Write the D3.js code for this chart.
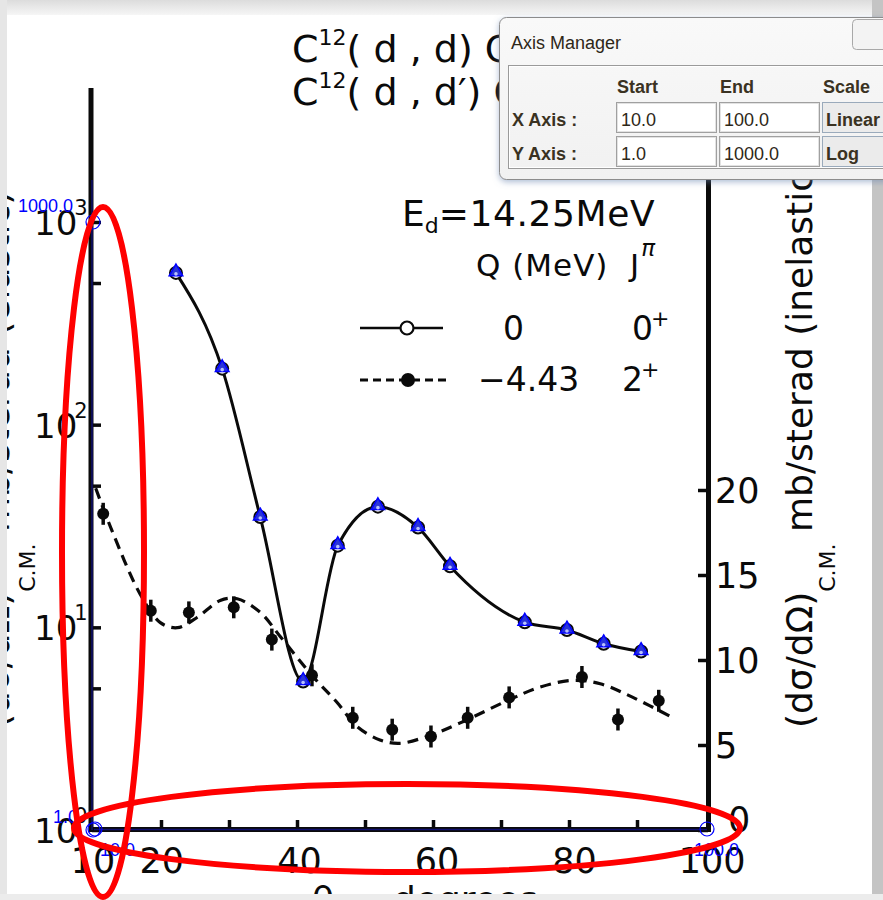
<!DOCTYPE html>
<html>
<head>
<meta charset="utf-8">
<script src="https://cdn.jsdelivr.net/npm/d3@7"></script>
<style>
  body { margin: 0; background: #fff; }
  svg { display: block; }
</style>
</head>
<body>
<svg id="chart" width="883" height="900"></svg>
<script>
// ---- data: C12(d,d)C12 elastic and C12(d,d')C12 inelastic, Ed = 14.25 MeV ----
const elasticAngles = [22.2, 29.0, 34.6, 40.9, 46.0, 51.9, 57.8, 62.5, 73.5, 79.7, 85.1, 90.6];
const elasticValues = [561, 189, 35, 5.4, 25.3, 39.4, 31.1, 20.0, 10.6, 9.7, 8.3, 7.6];

const inelasticAngles = [11.5, 18.5, 24.1, 30.7, 36.3, 42.2, 48.2, 54.0, 59.7, 65.1, 71.2, 81.9, 87.2, 93.2];
const inelasticValues = [18.6, 12.9, 12.8, 13.1, 11.2, 9.1, 6.6, 5.9, 5.5, 6.6, 7.8, 9.0, 6.5, 7.6];

// dashed theoretical curve for the inelastic group
const inelasticFitAngles = [10.4, 12.9, 16.9, 19.9, 22.4, 25.3, 28.7, 31.2, 34.6, 37.5, 42.4, 45.9, 48.8, 52.2, 55.1, 59.1, 64.0, 70.9, 75.7, 80.6, 84.6, 89.4, 95.3];
const inelasticFitValues = [20.1, 17.5, 13.9, 12.2, 11.9, 12.5, 13.5, 13.6, 12.8, 11.4, 9.0, 7.5, 6.1, 5.3, 5.1, 5.5, 6.3, 7.6, 8.4, 8.8, 8.6, 7.8, 6.6];

const xTickLabels = [10, 20, 40, 60, 80, 100];
const xTickMarks = [20, 30, 40, 50, 60, 70, 80, 90];
const leftTickMarks = [1, 5, 10, 50, 100, 500, 1000];
const leftTickLabels = [1, 10, 100, 1000];
const rightTickValues = [0, 5, 10, 15, 20];

// calibration points of the axis tool
const calibPoints = [
  { axis: "x", value: 10, label: "10.0" },
  { axis: "x", value: 100, label: "100.0" },
  { axis: "y", value: 1, label: "1.0" },
  { axis: "y", value: 1000, label: "1000.0" }
];
const managerRows = [
  { name: "X Axis :", start: "10.0", end: "100.0", scale: "Linear" },
  { name: "Y Axis :", start: "1.0", end: "1000.0", scale: "Log" }
];
const managerHeaders = ["Start", "End", "Scale"];

// ---- scales ----
const x = d3.scaleLinear().domain([10, 100]).range([93, 705]);
const yL = d3.scaleLog().domain([1, 1000]).range([830, 222]);
const yR = d3.scaleLinear().domain([0, 20]).range([830, 490]);

const svg = d3.select("#chart");
const FONT = "'DejaVu Sans', sans-serif";
const ink = "#0a0a0a";

svg.append("rect").attr("width", 883).attr("height", 900).attr("fill", "#fff");

// ---- rotated axis titles ----
function axisTitle(g, kind, subDrop) {
  const t = g.append("text")
    .attr("font-family", FONT).attr("font-size", 36).attr("fill", ink);
  t.append("tspan").text("(dσ/dΩ)");
  t.append("tspan").attr("font-size", 22).attr("dy", subDrop).text("C.M.");
  t.append("tspan").attr("dy", -subDrop).text(" mb/sterad (" + kind + ")");
  return t;
}
axisTitle(svg.append("g").attr("transform", "translate(9,728) rotate(-90)"), "elastic", 26);
axisTitle(svg.append("g").attr("transform", "translate(812,728) rotate(-90)"), "inelastic", 23);

// ---- heading ----
function reaction(yBase, prime) {
  const t = svg.append("text").attr("x", 292).attr("y", yBase)
    .attr("font-family", FONT).attr("font-size", 38).attr("fill", ink);
  t.append("tspan").text("C");
  t.append("tspan").attr("font-size", 22).attr("dy", -17).text("12");
  t.append("tspan").attr("dy", 17).text("( d , d" + (prime ? "′" : "") + ") C");
  t.append("tspan").attr("font-size", 22).attr("dy", -17).text("12");
}
reaction(62, false);
reaction(105, true);

// ---- axes ----
const axisG = svg.append("g");
axisG.append("line").attr("x1", 91).attr("x2", 91).attr("y1", 88).attr("y2", 832)
  .attr("stroke", ink).attr("stroke-width", 5);
axisG.append("line").attr("x1", 708.5).attr("x2", 708.5).attr("y1", 88).attr("y2", 832)
  .attr("stroke", ink).attr("stroke-width", 5);
axisG.append("line").attr("x1", 89).attr("x2", 711).attr("y1", 829.5).attr("y2", 829.5)
  .attr("stroke", ink).attr("stroke-width", 5);

function styleTicks(sel) {
  sel.select(".domain").remove();
  sel.selectAll(".tick line").attr("stroke", ink).attr("stroke-width", 3.5);
  sel.selectAll(".tick text").remove();
}
svg.append("g").attr("transform", "translate(92,0)")
  .call(d3.axisRight(yL).tickValues(leftTickMarks).tickSize(9).tickFormat(""))
  .call(styleTicks);
svg.append("g").attr("transform", "translate(708,0)")
  .call(d3.axisLeft(yR).tickValues(rightTickValues).tickSize(10).tickFormat(""))
  .call(styleTicks);
svg.append("g").attr("transform", "translate(0,829)")
  .call(d3.axisTop(x).tickValues(xTickMarks).tickSize(9).tickFormat(""))
  .call(styleTicks);

// left tick labels: powers of ten
leftTickLabels.forEach(v => {
  const yy = yL(v);
  const t = svg.append("text").attr("font-family", FONT).attr("font-size", 34).attr("fill", ink)
    .attr("x", 34).attr("y", yy + 13);
  t.append("tspan").text("10");
  t.append("tspan").attr("font-size", 21).attr("dy", -20).attr("dx", -3).text(Math.round(Math.log10(v)));
});

// bottom tick labels
svg.append("g").selectAll("text").data(xTickLabels).join("text")
  .attr("x", d => x(d) + (d - 10) * 0.08).attr("y", 873)
  .attr("text-anchor", "middle")
  .attr("font-family", FONT).attr("font-size", 35).attr("fill", ink)
  .text(d => d);

// right tick labels
svg.append("g").selectAll("text").data(rightTickValues).join("text")
  .attr("x", d => d === 0 ? 728 : 715).attr("y", d => yR(d) + 13 - (d === 0 ? 11 : 0))
  .attr("font-family", FONT).attr("font-size", 35).attr("fill", ink)
  .text(d => d);

// x axis title (mostly below the visible area)
const xt = svg.append("text").attr("x", 312).attr("y", 912)
  .attr("font-family", FONT).attr("font-size", 36).attr("fill", ink);
xt.append("tspan").text("θ");
xt.append("tspan").attr("font-size", 22).attr("dy", 10).text("c.m.");
xt.append("tspan").attr("dy", -10).text("  degrees");

// ---- legend ----
const lg = svg.append("g").attr("font-family", FONT).attr("fill", ink);
const ed = lg.append("text").attr("x", 402).attr("y", 226).attr("font-size", 36);
ed.append("tspan").text("E");
ed.append("tspan").attr("font-size", 22).attr("dy", 7).text("d");
ed.append("tspan").attr("dy", -7).attr("letter-spacing", 0.6).text("=14.25MeV");
lg.append("text").attr("x", 476).attr("y", 276).attr("font-size", 31).attr("letter-spacing", 1).text("Q (MeV)");
const jp = lg.append("text").attr("x", 630).attr("y", 276).attr("font-size", 31);
jp.append("tspan").text("J");
jp.append("tspan").attr("font-size", 23).attr("dy", -20).attr("dx", 2).attr("font-style", "italic").text("π");

lg.append("line").attr("x1", 360).attr("x2", 443).attr("y1", 328).attr("y2", 328)
  .attr("stroke", ink).attr("stroke-width", 2.5);
lg.append("circle").attr("cx", 407).attr("cy", 328).attr("r", 6.5)
  .attr("fill", "#fff").attr("stroke", ink).attr("stroke-width", 2.2);
lg.append("text").attr("x", 503).attr("y", 340).attr("font-size", 33).text("0");
const j0 = lg.append("text").attr("x", 632).attr("y", 340).attr("font-size", 33);
j0.append("tspan").text("0");
j0.append("tspan").attr("font-size", 22).attr("dy", -14).attr("dx", -2).text("+");

lg.append("line").attr("x1", 360).attr("x2", 448).attr("y1", 380).attr("y2", 380)
  .attr("stroke", ink).attr("stroke-width", 3).attr("stroke-dasharray", "8,5");
lg.append("circle").attr("cx", 408).attr("cy", 380).attr("r", 7).attr("fill", ink);
lg.append("text").attr("x", 478).attr("y", 391).attr("font-size", 33).text("−4.43");
const j2 = lg.append("text").attr("x", 622).attr("y", 391).attr("font-size", 33);
j2.append("tspan").text("2");
j2.append("tspan").attr("font-size", 22).attr("dy", -14).attr("dx", -2).text("+");

// ---- curves ----
const elastic = elasticAngles.map((a, i) => ({ a, v: elasticValues[i] }));
const inelastic = inelasticAngles.map((a, i) => ({ a, v: inelasticValues[i] }));
const fit = inelasticFitAngles.map((a, i) => ({ a, v: inelasticFitValues[i] }));

svg.append("path").datum(fit)
  .attr("d", d3.line().x(d => x(d.a)).y(d => yR(d.v)).curve(d3.curveCatmullRom))
  .attr("fill", "none").attr("stroke", ink).attr("stroke-width", 3.2)
  .attr("stroke-dasharray", "11,7");

svg.append("path").datum(elastic)
  .attr("d", d3.line().x(d => x(d.a)).y(d => yL(d.v)).curve(d3.curveMonotoneX))
  .attr("fill", "none").attr("stroke", ink).attr("stroke-width", 3);

// inelastic points with error bars
const ip = svg.append("g").selectAll("g").data(inelastic).join("g")
  .attr("transform", d => `translate(${x(d.a)},${yR(d.v)})`);
ip.append("line").attr("y1", -11).attr("y2", 11).attr("stroke", ink).attr("stroke-width", 3.5);
ip.append("circle").attr("r", 6).attr("fill", ink);

// elastic points: open circles under digitizer triangles
const ep = svg.append("g").selectAll("g").data(elastic).join("g")
  .attr("transform", d => `translate(${x(d.a)},${yL(d.v)})`);
ep.append("circle").attr("r", 6).attr("fill", "#fff").attr("stroke", ink).attr("stroke-width", 2);
ep.append("path").attr("d", d3.symbol(d3.symbolTriangle, 80)).attr("transform", "translate(0,-1)")
  .attr("fill", "#2a35d8").attr("stroke", "#0000ff").attr("stroke-width", 1.5);
ep.append("circle").attr("r", 1.8).attr("cy", 1).attr("fill", "#b8c0ff");

// ---- digitizer axis overlay ----
const blue = "#0000ff";
svg.append("line").attr("x1", 92).attr("x2", 92).attr("y1", 180).attr("y2", 830)
  .attr("stroke", "#101070").attr("stroke-width", 1.5);
svg.append("line").attr("x1", 94).attr("x2", 707).attr("y1", 829.5).attr("y2", 829.5)
  .attr("stroke", "#101070").attr("stroke-width", 1.5);
const calibFont = "'Liberation Sans', Arial, sans-serif";
calibPoints.forEach(p => {
  const cx = p.axis === "x" ? x(p.value) + 2 : 93;
  const cy = p.axis === "x" ? 829 : yL(p.value);
  svg.append("circle").attr("cx", cx).attr("cy", cy).attr("r", 7)
    .attr("fill", "none").attr("stroke", blue).attr("stroke-width", 1.2);
  const t = svg.append("text").attr("font-family", calibFont)
    .attr("font-size", 18).attr("fill", blue).text(p.label);
  if (p.axis === "x") t.attr("x", cx + 5 - (p.value === 100 ? 18 : 0)).attr("y", cy + 27);
  else t.attr("x", p.value === 1 ? 78 : 73).attr("y", cy - (p.value === 1 ? 7 : 10)).attr("text-anchor", "end");
});

// ---- window frame ----
const defs = svg.append("defs");
const tg = defs.append("linearGradient").attr("id", "topband").attr("x1", 0).attr("y1", 0).attr("x2", 0).attr("y2", 1);
tg.append("stop").attr("offset", 0).attr("stop-color", "#dcdcdc");
tg.append("stop").attr("offset", 1).attr("stop-color", "#f6f6f6");
svg.append("rect").attr("x", 0).attr("y", 0).attr("width", 883).attr("height", 15).attr("fill", "url(#topband)");
svg.append("rect").attr("x", 0).attr("y", 0).attr("width", 7).attr("height", 900).attr("fill", "#e6e6e6");
svg.append("rect").attr("x", 872).attr("y", 0).attr("width", 11).attr("height", 900).attr("fill", "#c4c4c4");
svg.append("rect").attr("x", 0).attr("y", 894).attr("width", 883).attr("height", 6).attr("fill", "#ececec");

// ---- axis manager dialog ----
const dg = defs.append("linearGradient").attr("id", "dlg").attr("x1", 0).attr("y1", 0).attr("x2", 0).attr("y2", 1);
dg.append("stop").attr("offset", 0).attr("stop-color", "#f9f9f9");
dg.append("stop").attr("offset", 1).attr("stop-color", "#f1f1f1");
defs.append("filter").attr("id", "shadow").attr("x", -0.1).attr("y", -0.1).attr("width", 1.3).attr("height", 1.3)
  .append("feDropShadow").attr("dx", 0).attr("dy", 2).attr("stdDeviation", 3)
  .attr("flood-color", "#6a86b0").attr("flood-opacity", 0.55);

const dlg = svg.append("g").attr("font-family", calibFont);
dlg.append("rect").attr("x", 499.5).attr("y", 17.5).attr("width", 420).attr("height", 162).attr("rx", 7)
  .attr("fill", "url(#dlg)").attr("stroke", "#8c8c8c").attr("filter", "url(#shadow)");
dlg.append("text").attr("x", 511).attr("y", 49).attr("font-size", 18).attr("fill", "#2e2718").text("Axis Manager");
dlg.append("rect").attr("x", 852.5).attr("y", 19.5).attr("width", 45).attr("height", 30).attr("rx", 4)
  .attr("fill", "#f3f3f3").attr("stroke", "#a8a8a8");
dlg.append("rect").attr("x", 508.5).attr("y", 65.5).attr("width", 400).attr("height", 103)
  .attr("fill", "none").attr("stroke", "#9a9a9a");
dlg.append("rect").attr("x", 509.5).attr("y", 66.5).attr("width", 400).attr("height", 101)
  .attr("fill", "none").attr("stroke", "#ffffff");

const colX = [617, 720, 823];
dlg.selectAll("text.hdr").data(managerHeaders).join("text").attr("class", "hdr")
  .attr("x", (d, i) => colX[i]).attr("y", 93).attr("font-size", 18).attr("font-weight", "bold")
  .attr("fill", "#3a3222").text(d => d);

managerRows.forEach((r, i) => {
  const top = 102 + i * 34;
  dlg.append("text").attr("x", 512).attr("y", top + 24).attr("font-size", 18).attr("font-weight", "bold")
    .attr("fill", "#3a3222").text(r.name);
  [r.start, r.end].forEach((v, j) => {
    const fx = 616 + j * 103;
    dlg.append("rect").attr("x", fx + 0.5).attr("y", top + 0.5).attr("width", 100).attr("height", 30)
      .attr("fill", "#fff").attr("stroke", "#a0a0a0");
    dlg.append("rect").attr("x", fx + 1.5).attr("y", top + 1.5).attr("width", 98).attr("height", 28)
      .attr("fill", "none").attr("stroke", "#e2e2e2");
    dlg.append("text").attr("x", fx + 5).attr("y", top + 24).attr("font-size", 18)
      .attr("fill", "#2e2718").text(v);
  });
  dlg.append("rect").attr("x", 822.5).attr("y", top + 0.5).attr("width", 80).attr("height", 30)
    .attr("fill", "#ebebeb").attr("stroke", "#9aaabb");
  dlg.append("text").attr("x", 826).attr("y", top + 24).attr("font-size", 18).attr("font-weight", "bold")
    .attr("fill", "#3a3222").text(r.scale);
});

// ---- red highlight ellipses ----
svg.append("ellipse").attr("cx", 103).attr("cy", 552).attr("rx", 41).attr("ry", 345)
  .attr("fill", "none").attr("stroke", "#ff0000").attr("stroke-width", 6);
svg.append("ellipse").attr("cx", 407).attr("cy", 828).attr("rx", 333).attr("ry", 44)
  .attr("fill", "none").attr("stroke", "#ff0000").attr("stroke-width", 6);
</script>
</body>
</html>
